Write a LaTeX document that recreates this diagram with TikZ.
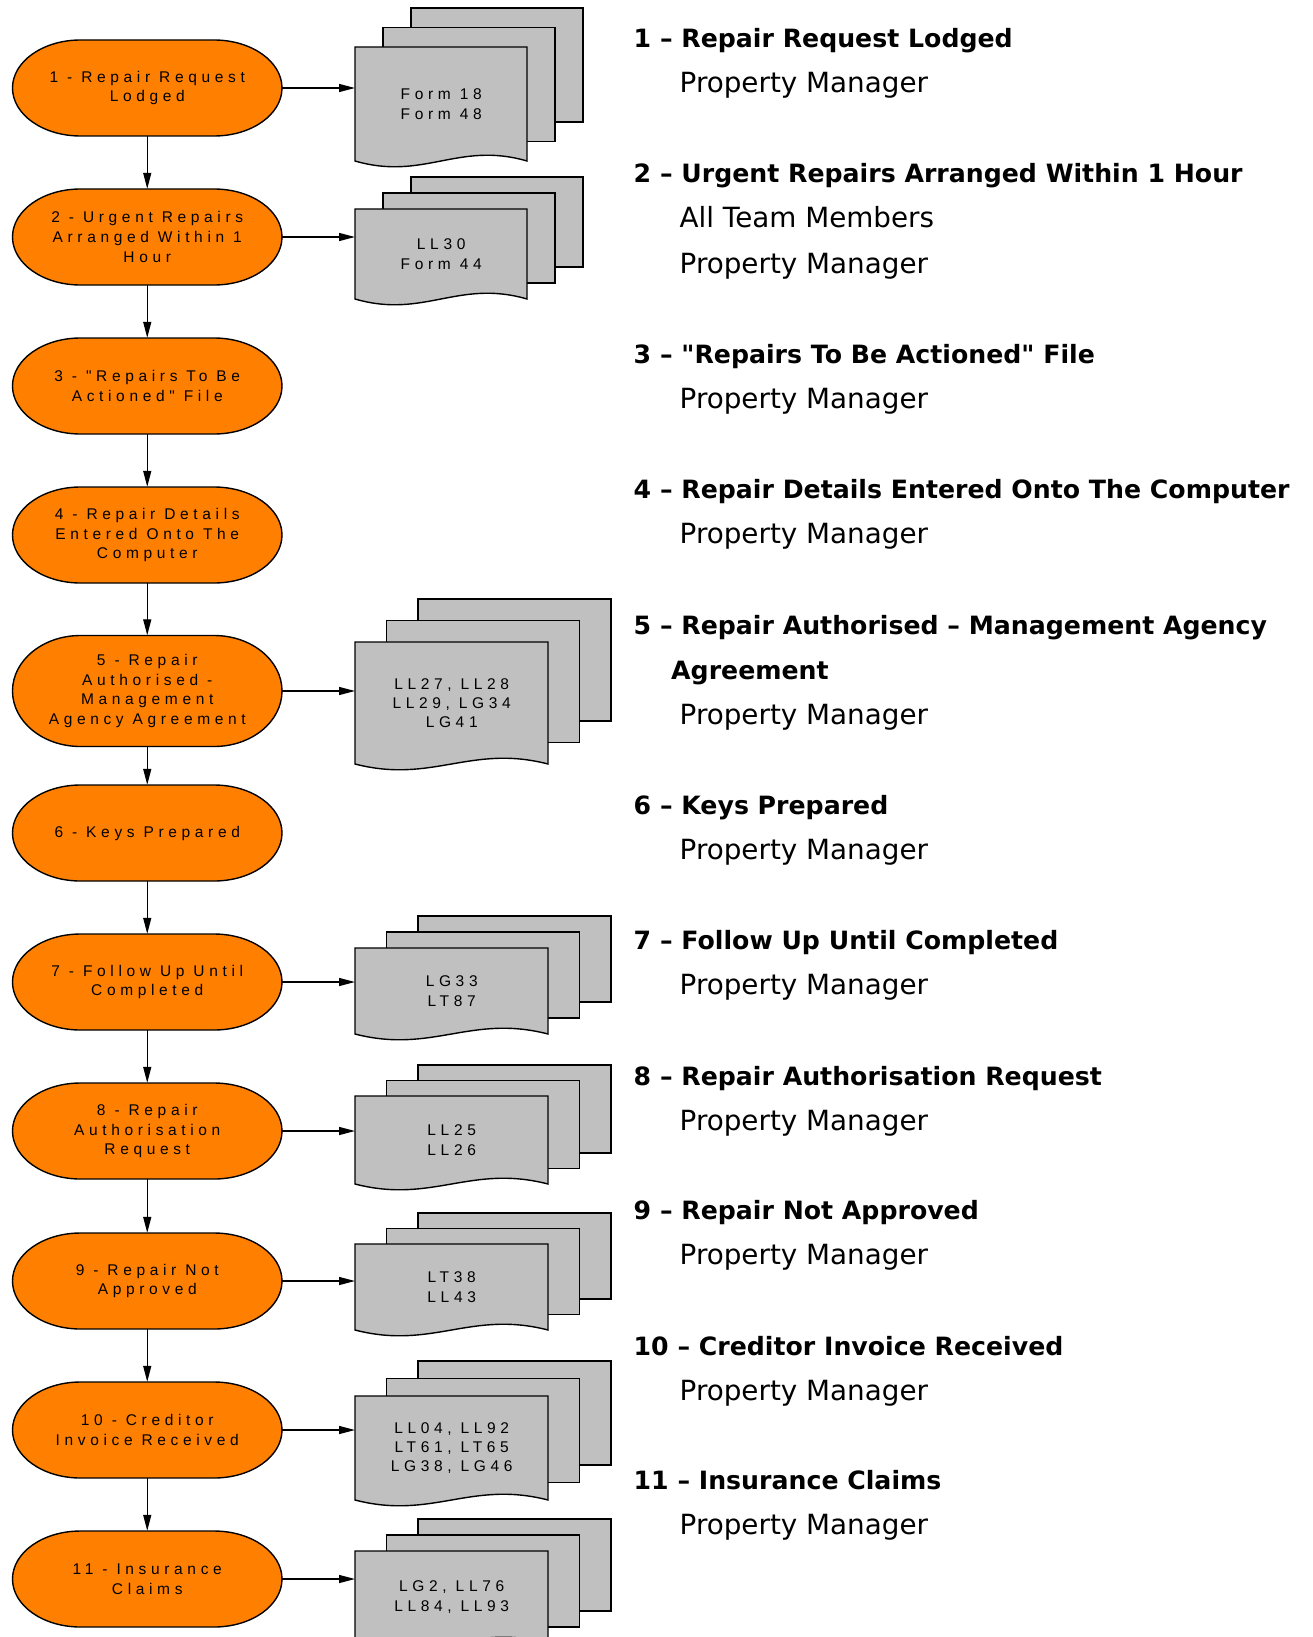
\documentclass[tikz,border=0pt]{standalone}
\usepackage{fontspec}
\usetikzlibrary{arrows.meta}
\newfontfamily\ovfont[LetterSpace=30]{Liberation Sans}
\newfontfamily\hdfont{DejaVu Sans}
\definecolor{ovorange}{HTML}{FF8000}
\definecolor{docgray}{HTML}{C0C0C0}
\tikzset{
  ovshape/.style={fill=ovorange, draw=black, line width=1.4pt},
  docshape/.style={fill=docgray, draw=black, line width=1.4pt},
  ovtext/.style={inner sep=0pt, align=center, font=\ovfont\fontsize{15.5}{19.8}\selectfont},
  doctext/.style={inner sep=0pt, align=center, font=\ovfont\fontsize{15.5}{19.3}\selectfont},
  arr/.style={line width=1.3pt, -{Triangle[length=16pt,width=8pt]}},
  ttl/.style={anchor=base west, inner sep=0pt, font=\hdfont\bfseries\fontsize{25.2}{30}\selectfont},
  sub/.style={anchor=base west, inner sep=0pt, font=\hdfont\fontsize{27.8}{32}\selectfont},
}
\newcommand{\stepoval}[4]{%
  \filldraw[ovshape] ({80.5},{-(#2)+(#3)/2}) -- ({214},{-(#2)+(#3)/2})
    arc[start angle=90,end angle=-90,x radius=68,y radius={(#3)/2}]
    -- ({80.5},{-(#2)-(#3)/2})
    arc[start angle=270,end angle=90,x radius=68,y radius={(#3)/2}] -- cycle;
  \node[ovtext,minimum width=269.5pt,minimum height=#3pt] (#1) at (147.25,{-(#2)}) {#4};
}
\newcommand{\docstack}[8]{%
  \filldraw[docshape] ({#2+2*#6},{-(#3-2*#7)}) rectangle ++(#4,-#5);
  \filldraw[docshape] ({#2+#6},{-(#3-#7)}) rectangle ++(#4,-#5);
  \filldraw[docshape] (#2,{-(#3)}) -- ({#2+#4},{-(#3)}) -- ({#2+#4},{-(#3+#5)})
    .. controls ({#2+0.6*#4},{-(#3+#5)+20}) and ({#2+0.4*#4},{-(#3+#5)-20}) .. (#2,{-(#3+#5)}) -- cycle;
  \node[doctext,minimum width=#4pt,minimum height=#5pt,anchor=north west] (#1) at (#2,{-(#3)}) {#8};
}
\begin{document}
\begin{tikzpicture}[x=1pt,y=1pt]
\useasboundingbox (0,0) rectangle (1313,-1637);
% ovals
\stepoval{o1}{88}{96}{1 - Repair Request\\Lodged}
\stepoval{o2}{237}{96}{2 - Urgent Repairs\\Arranged Within 1\\Hour}
\stepoval{o3}{386}{96}{3 - "Repairs To Be\\Actioned" File}
\stepoval{o4}{535}{96}{4 - Repair Details\\Entered Onto The\\Computer}
\stepoval{o5}{691}{111}{5 - Repair\\Authorised -\\Management\\Agency Agreement}
\stepoval{o6}{833}{96}{6 - Keys Prepared}
\stepoval{o7}{982}{96}{7 - Follow Up Until\\Completed}
\stepoval{o8}{1131}{96}{8 - Repair\\Authorisation\\Request}
\stepoval{o9}{1281}{96}{9 - Repair Not\\Approved}
\stepoval{o10}{1430}{96}{10 - Creditor\\Invoice Received}
\stepoval{o11}{1579}{96}{11 - Insurance\\Claims}
% document stacks
\docstack{d1}{355}{47}{172}{114}{28}{19.5}{Form 18\\Form 48}
\docstack{d2}{355}{209}{172}{90}{28}{16}{LL30\\Form 44}
\docstack{d5}{355}{642}{193}{122}{31.5}{21.5}{LL27, LL28\\LL29, LG34\\LG41}
\docstack{d7}{355}{948}{193}{86}{31.5}{16}{LG33\\LT87}
\docstack{d8}{355}{1096}{193}{88}{31.5}{15.5}{LL25\\LL26}
\docstack{d9}{355}{1244}{193}{86}{31.5}{15.5}{LT38\\LL43}
\docstack{d10}{355}{1396}{193}{104}{31.5}{17.5}{LL04, LL92\\LT61, LT65\\LG38, LG46}
\docstack{d11}{355}{1551}{193}{92}{31.5}{16}{LG2, LL76\\LL84, LL93}
% vertical connectors
\draw[arr] (o1.south) -- (o2.north);
\draw[arr] (o2.south) -- (o3.north);
\draw[arr] (o3.south) -- (o4.north);
\draw[arr] (o4.south) -- (o5.north);
\draw[arr] (o5.south) -- (o6.north);
\draw[arr] (o6.south) -- (o7.north);
\draw[arr] (o7.south) -- (o8.north);
\draw[arr] (o8.south) -- (o9.north);
\draw[arr] (o9.south) -- (o10.north);
\draw[arr] (o10.south) -- (o11.north);
% horizontal connectors
\draw[arr] (o1.east) -- (o1.east -| d1.west);
\draw[arr] (o2.east) -- (o2.east -| d2.west);
\draw[arr] (o5.east) -- (o5.east -| d5.west);
\draw[arr] (o7.east) -- (o7.east -| d7.west);
\draw[arr] (o8.east) -- (o8.east -| d8.west);
\draw[arr] (o9.east) -- (o9.east -| d9.west);
\draw[arr] (o10.east) -- (o10.east -| d10.west);
\draw[arr] (o11.east) -- (o11.east -| d11.west);
% right-hand text
\node[ttl] (t1) at (633.5,-48) {1 – Repair Request Lodged};
\node[sub] (s1a) at (679.5,-93) {Property Manager};
\node[ttl] (t2) at (633.5,-183) {2 – Urgent Repairs Arranged Within 1 Hour};
\node[sub] (s2a) at (679.5,-228) {All Team Members};
\node[sub] (s2b) at (679.5,-273) {Property Manager};
\node[ttl] (t3) at (633.5,-363) {3 – "Repairs To Be Actioned" File};
\node[sub] (s3a) at (679.5,-408) {Property Manager};
\node[ttl] (t4) at (633.5,-498) {4 – Repair Details Entered Onto The Computer};
\node[sub] (s4a) at (679.5,-543) {Property Manager};
\node[ttl] (t5) at (633.5,-634) {5 – Repair Authorised – Management Agency};
\node[ttl] (t5b) at (671,-679) {Agreement};
\node[sub] (s5a) at (679.5,-724) {Property Manager};
\node[ttl] (t6) at (633.5,-814) {6 – Keys Prepared};
\node[sub] (s6a) at (679.5,-859) {Property Manager};
\node[ttl] (t7) at (633.5,-949) {7 – Follow Up Until Completed};
\node[sub] (s7a) at (679.5,-994) {Property Manager};
\node[ttl] (t8) at (633.5,-1085) {8 – Repair Authorisation Request};
\node[sub] (s8a) at (679.5,-1130) {Property Manager};
\node[ttl] (t9) at (633.5,-1219) {9 – Repair Not Approved};
\node[sub] (s9a) at (679.5,-1264) {Property Manager};
\node[ttl] (t10) at (633.5,-1355) {10 – Creditor Invoice Received};
\node[sub] (s10a) at (679.5,-1400) {Property Manager};
\node[ttl] (t11) at (633.5,-1489) {11 – Insurance Claims};
\node[sub] (s11a) at (679.5,-1534) {Property Manager};
\end{tikzpicture}
\end{document}
